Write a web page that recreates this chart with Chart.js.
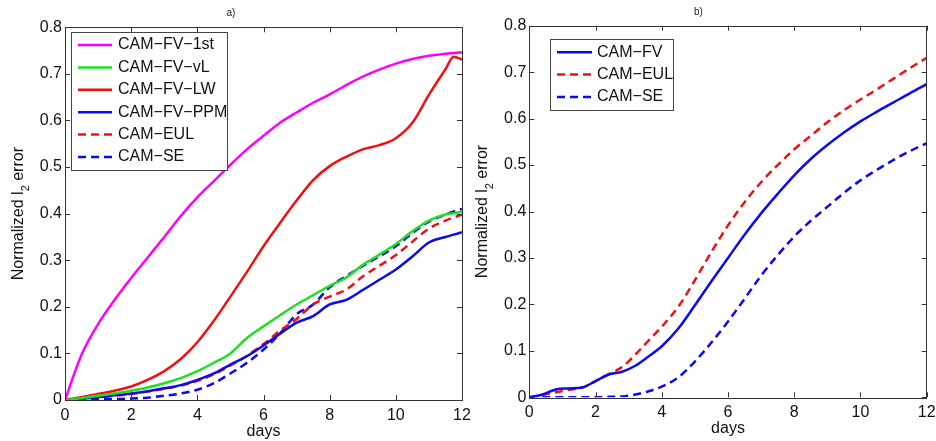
<!DOCTYPE html>
<html>
<head>
<meta charset="utf-8">
<script src="https://cdn.jsdelivr.net/npm/chart.js@4/dist/chart.umd.min.js"></script>
<style>
  body { margin: 0; background: #fff; width: 936px; height: 441px; overflow: hidden; position: relative; }
  canvas { position: absolute; top: 0; }
  #chartA { left: 0; }
  #chartB { left: 470px; }
</style>
</head>
<body>
<canvas id="chartA" width="471" height="441"></canvas>
<canvas id="chartB" width="466" height="441"></canvas>
<script>
// ---- panel a) ----
const daysA = [0, 0.5, 1, 1.5, 2, 2.5, 3, 3.5, 4, 4.5, 5, 5.5, 6, 6.5, 7, 7.5, 8, 8.5, 9, 9.5, 10, 10.5, 11, 11.5, 11.75, 12];
const fv1st = [0, 0.097, 0.163, 0.215, 0.262, 0.306, 0.35, 0.395, 0.435, 0.47, 0.505, 0.538, 0.567, 0.595, 0.617, 0.638, 0.656, 0.676, 0.694, 0.709, 0.722, 0.732, 0.739, 0.743, 0.745, 0.746];
const fvVL  = [0, 0.004, 0.009, 0.014, 0.02, 0.027, 0.036, 0.047, 0.062, 0.08, 0.1, 0.133, 0.158, 0.182, 0.205, 0.225, 0.245, 0.263, 0.29, 0.312, 0.335, 0.362, 0.385, 0.398, 0.401, 0.404];
const fvLW  = [0, 0.006, 0.013, 0.02, 0.029, 0.043, 0.062, 0.088, 0.124, 0.17, 0.222, 0.275, 0.33, 0.38, 0.428, 0.472, 0.502, 0.522, 0.538, 0.547, 0.562, 0.595, 0.655, 0.71, 0.737, 0.731];
const fvPPM = [0, 0.003, 0.006, 0.01, 0.014, 0.019, 0.025, 0.032, 0.043, 0.057, 0.076, 0.094, 0.117, 0.142, 0.166, 0.18, 0.205, 0.215, 0.236, 0.258, 0.28, 0.308, 0.338, 0.35, 0.355, 0.36];
const eulA  = [0, 0.003, 0.006, 0.009, 0.013, 0.018, 0.024, 0.031, 0.041, 0.055, 0.074, 0.095, 0.12, 0.149, 0.174, 0.205, 0.222, 0.237, 0.265, 0.288, 0.311, 0.34, 0.368, 0.385, 0.392, 0.398];
const seA   = [0, 0, 0.001, 0.002, 0.003, 0.005, 0.009, 0.014, 0.022, 0.036, 0.057, 0.08, 0.108, 0.143, 0.184, 0.205, 0.242, 0.266, 0.288, 0.308, 0.33, 0.358, 0.383, 0.398, 0.405, 0.41];

// ---- panel b) ----
const daysB = [0, 0.4, 0.8, 1.2, 1.6, 2, 2.4, 2.8, 3.2, 3.6, 4, 4.5, 5, 5.5, 6, 6.5, 7, 7.5, 8, 8.5, 9, 9.5, 10, 10.5, 11, 11.5, 12];
const fvB   = [0, 0.006, 0.017, 0.019, 0.021, 0.035, 0.049, 0.055, 0.068, 0.088, 0.11, 0.148, 0.198, 0.25, 0.3, 0.35, 0.396, 0.438, 0.478, 0.513, 0.543, 0.57, 0.594, 0.615, 0.635, 0.655, 0.674];
const eulB  = [0, 0.005, 0.011, 0.016, 0.021, 0.035, 0.05, 0.065, 0.092, 0.122, 0.152, 0.195, 0.252, 0.313, 0.37, 0.42, 0.463, 0.5, 0.534, 0.563, 0.592, 0.618, 0.641, 0.663, 0.686, 0.709, 0.731];
const seB   = [0, 0, 0, 0, 0, 0, 0.001, 0.002, 0.006, 0.013, 0.023, 0.043, 0.077, 0.118, 0.163, 0.212, 0.262, 0.306, 0.346, 0.38, 0.41, 0.44, 0.467, 0.49, 0.511, 0.53, 0.547];

const xTicks = [0, 2, 4, 6, 8, 10, 12];
const yTicks = [0, 0.1, 0.2, 0.3, 0.4, 0.5, 0.6, 0.7, 0.8];

const MAGENTA = '#ff00ff', GREEN = '#1ee01e', RED = '#f01010', BLUE = '#0a0aee';

Chart.defaults.font.family = '"Liberation Sans", Arial, sans-serif';
Chart.defaults.color = '#111';

function series(label, days, vals, color, dashed) {
  return {
    label,
    data: days.map((d, i) => ({ x: d, y: vals[i] })),
    borderColor: color,
    borderWidth: 2.5,
    borderDash: dashed ? [8, 5] : [],
    pointRadius: 0,
    cubicInterpolationMode: 'monotone',
    fill: false
  };
}

// box, inward ticks, legend and y title (with subscript) drawn on top
const framePlugin = {
  id: 'frame',
  afterDatasetsDraw(chart, args, opts) {
    const { ctx, chartArea: a, scales: { x, y } } = chart;
    ctx.save();
    ctx.strokeStyle = '#333';
    ctx.lineWidth = 1;
    ctx.setLineDash([]);
    ctx.beginPath();
    x.ticks.forEach(t => {
      const px = Math.round(x.getPixelForValue(t.value)) + 0.5;
      ctx.moveTo(px, a.bottom); ctx.lineTo(px, a.bottom - 5);
      ctx.moveTo(px, a.top); ctx.lineTo(px, a.top + 5);
    });
    y.ticks.forEach(t => {
      const py = Math.round(y.getPixelForValue(t.value)) + 0.5;
      ctx.moveTo(a.left, py); ctx.lineTo(a.left + 5, py);
      ctx.moveTo(a.right, py); ctx.lineTo(a.right - 5, py);
    });
    ctx.stroke();
    ctx.strokeRect(Math.round(a.left) + 0.5, Math.round(a.top) + 0.5, Math.round(a.right - a.left), Math.round(a.bottom - a.top));

    // legend
    const lg = opts.legend;
    ctx.fillStyle = '#fff';
    ctx.fillRect(lg.x, lg.y, lg.w, lg.h);
    ctx.strokeStyle = '#444';
    ctx.strokeRect(lg.x + 0.5, lg.y + 0.5, lg.w, lg.h);
    ctx.font = '16px "Liberation Sans", Arial, sans-serif';
    ctx.textBaseline = 'middle';
    ctx.textAlign = 'left';
    chart.data.datasets.forEach((ds, i) => {
      const cy = lg.y + lg.first + i * lg.step;
      ctx.strokeStyle = ds.borderColor;
      ctx.lineWidth = ds.borderWidth;
      ctx.setLineDash(ds.borderDash);
      ctx.beginPath();
      ctx.moveTo(lg.x + lg.line0, cy);
      ctx.lineTo(lg.x + lg.line1, cy);
      ctx.stroke();
      ctx.fillStyle = '#111';
      ctx.fillText(ds.label, lg.x + lg.text, cy);
    });
    ctx.setLineDash([]);

    // y axis title: Normalized l_2 error
    const big = '16px "Liberation Sans", Arial, sans-serif';
    const small = '11px "Liberation Sans", Arial, sans-serif';
    const p1 = 'Normalized l', p2 = '2', p3 = ' error';
    ctx.font = big; const w1 = ctx.measureText(p1).width, w3 = ctx.measureText(p3).width;
    ctx.font = small; const w2 = ctx.measureText(p2).width;
    const total = w1 + w2 + w3;
    ctx.translate(opts.titleX, (a.top + a.bottom) / 2);
    ctx.rotate(-Math.PI / 2);
    ctx.fillStyle = '#111';
    ctx.textBaseline = 'middle';
    let cx = -total / 2;
    ctx.font = big; ctx.fillText(p1, cx, 0); cx += w1;
    ctx.font = small; ctx.fillText(p2, cx, 7); cx += w2;
    ctx.font = big; ctx.fillText(p3, cx, 0);
    ctx.restore();
  }
};

function makeChart(id, title, datasets, geo) {
  return new Chart(document.getElementById(id), {
    type: 'line',
    data: { datasets },
    plugins: [framePlugin],
    options: {
      responsive: false,
      animation: false,
      devicePixelRatio: 1,
      layout: { padding: { left: 0, right: geo.padRight, top: 0, bottom: 0 } },
      plugins: {
        legend: { display: false },
        tooltip: { enabled: false },
        title: {
          display: true,
          text: title,
          color: '#222',
          font: { size: 10, weight: 'normal' },
          padding: { top: geo.titleTop, bottom: geo.titleBottom }
        },
        frame: { legend: geo.legend, titleX: geo.titleX }
      },
      scales: {
        x: {
          type: 'linear',
          min: 0, max: 12,
          grid: { display: false, drawTicks: false },
          border: { display: false },
          afterBuildTicks: s => { s.ticks = xTicks.map(v => ({ value: v })); },
          ticks: { font: { size: 16 }, padding: 6, maxRotation: 0, callback: v => String(v) },
          title: { display: true, text: 'days', font: { size: 16 }, padding: { top: 0, bottom: geo.daysPad } },
          afterFit: s => { s.height = geo.xHeight; s.paddingLeft = 0; s.paddingRight = 0; }
        },
        y: {
          min: 0, max: 0.8,
          grid: { display: false, drawTicks: false },
          border: { display: false },
          afterBuildTicks: s => { s.ticks = yTicks.map(v => ({ value: v })); },
          ticks: { font: { size: 16 }, padding: 3, callback: v => v === 0 ? '0' : v.toFixed(1) },
          afterFit: s => { s.width = geo.yWidth; }
        }
      }
    }
  });
}

makeChart('chartA', 'a)', [
  series('CAM\u2212FV\u22121st', daysA, fv1st, MAGENTA, false),
  series('CAM\u2212FV\u2212vL', daysA, fvVL, GREEN, false),
  series('CAM\u2212FV\u2212LW', daysA, fvLW, RED, false),
  series('CAM\u2212FV\u2212PPM', daysA, fvPPM, BLUE, false),
  series('CAM\u2212EUL', daysA, eulA, RED, true),
  series('CAM\u2212SE', daysA, seA, BLUE, true)
], {
  padRight: 9, titleTop: 7, titleBottom: 8.3, xHeight: 41, yWidth: 65, daysPad: 0, titleX: 19,
  legend: { x: 71, y: 32, w: 156, h: 138, first: 13, step: 22.4, line0: 7, line1: 41, text: 47 }
});

makeChart('chartB', 'b)', [
  series('CAM\u2212FV', daysB, fvB, BLUE, false),
  series('CAM\u2212EUL', daysB, eulB, RED, true),
  series('CAM\u2212SE', daysB, seB, BLUE, true)
], {
  padRight: 9.3, titleTop: 6, titleBottom: 7.7, xHeight: 43.7, yWidth: 59.3, daysPad: 2.5, titleX: 13,
  legend: { x: 80, y: 39, w: 123, h: 71, first: 13.3, step: 22.3, line0: 7, line1: 42, text: 47 }
});
</script>
</body>
</html>
